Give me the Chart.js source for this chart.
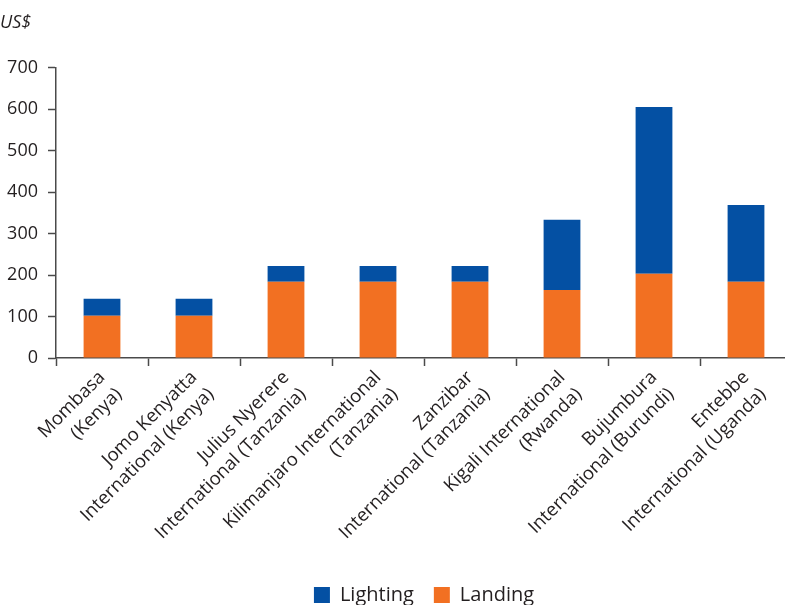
<!DOCTYPE html>
<html>
<head>
<meta charset="utf-8">
<script src="https://cdn.jsdelivr.net/npm/chart.js@4.4.1/dist/chart.umd.min.js"></script>
<style>
  html, body { margin: 0; padding: 0; background: #fff; overflow: hidden; }
  #wrap { position: relative; width: 800px; height: 615px; }
</style>
</head>
<body>
<div id="wrap"><canvas id="c"></canvas></div>
<script>
'use strict';

const airports = [
    ['Mombasa', '(Kenya)'],
    ['Jomo Kenyatta', 'International (Kenya)'],
    ['Julius Nyerere', 'International (Tanzania)'],
    ['Kilimanjaro International', '(Tanzania)'],
    ['Zanzibar', 'International (Tanzania)'],
    ['Kigali International', '(Rwanda)'],
    ['Bujumbura', 'International (Burundi)'],
    ['Entebbe', 'International (Uganda)'],
];
const landing  = [102, 102, 184, 184, 184, 164, 203, 184];
const lighting = [41, 41, 38, 38, 38, 169, 402, 185];
const yTicks   = [0, 100, 200, 300, 400, 500, 600, 700];

const COLORS = {
    lighting: '#0450a3',
    landing: '#f27022',
    text: '#231f20',
    axis: '#4a4a4a',
};
const FONT = "'Open Sans', 'Noto Sans', sans-serif";

const ctx = document.getElementById('c').getContext('2d');

new Chart(ctx, {
    type: 'bar',
    data: {
        labels: airports,
        datasets: [
            // orange on the bottom of each stack
            {
                label: 'Landing',
                data: landing,
                backgroundColor: COLORS.landing,
                barPercentage: 0.4,
                categoryPercentage: 1,
            },
            {
                label: 'Lighting',
                data: lighting,
                backgroundColor: COLORS.lighting,
                barPercentage: 0.4,
                categoryPercentage: 1,
            },
        ],
    },
    options: {
        responsive: true,
        maintainAspectRatio: false,
        animation: false,
        layout: { padding: { top: 0, right: 8, left: 0, bottom: 0 } },
        plugins: {
            tooltip: { enabled: false },
            title: {
                display: true,
                text: 'US$',
                align: 'start',
                color: COLORS.text,
                font: { family: FONT, size: 18, style: 'italic', weight: 'normal' },
                padding: { top: 12, bottom: 34 },
            },
            legend: {
                position: 'bottom',
                fullSize: false,
                reverse: true,
                labels: {
                    color: COLORS.text,
                    boxWidth: 16,
                    boxHeight: 16,
                    padding: 20,
                    font: { family: FONT, size: 20 },
                },
            },
        },
        scales: {
            x: {
                stacked: true,
                afterFit: (scale) => { scale.height = 207; },
                grid: {
                    display: true,
                    drawOnChartArea: false,
                    drawTicks: true,
                    tickLength: 8,
                    tickWidth: 1.5,
                    color: COLORS.axis,
                },
                border: { color: COLORS.axis, width: 1.5 },
                ticks: {
                    color: COLORS.text,
                    minRotation: 45,
                    maxRotation: 45,
                    padding: 0,
                    font: { family: FONT, size: 18.5, lineHeight: 1.3 },
                },
            },
            y: {
                stacked: true,
                min: 0,
                max: 700,
                afterBuildTicks: (scale) => {
                    scale.ticks = yTicks.map(v => ({ value: v }));
                },
                afterFit: (scale) => { scale.width = 56; },
                grid: {
                    display: true,
                    drawOnChartArea: false,
                    tickLength: 8,
                    tickWidth: 1.5,
                    color: COLORS.axis,
                },
                border: { color: COLORS.axis, width: 1.5 },
                ticks: {
                    color: COLORS.text,
                    padding: 10,
                    font: { family: FONT, size: 18 },
                },
            },
        },
    },
});
</script>
</body>
</html>
